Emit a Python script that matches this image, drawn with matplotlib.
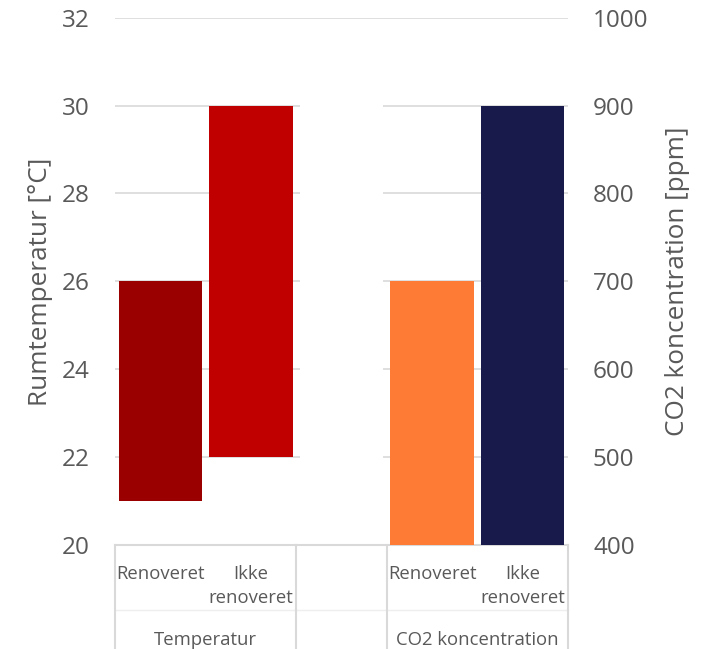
import matplotlib.pyplot as plt
from matplotlib.lines import Line2D

plt.rcParams['font.family'] = ['Open Sans', 'DejaVu Sans']

# Temperature range (left axis) and CO2 range (right axis) per building type
groups = ['Temperatur', 'CO2 koncentration']
categories = ['Renoveret', 'Ikke\nrenoveret']
temp_low = [21, 22]
temp_high = [26, 30]
co2_low = [400, 400]
co2_high = [700, 900]

temp_colors = ['#9B0000', '#C00000']
co2_colors = ['#FD7B35', '#171A4A']
text_color = '#595959'
grid_color = '#D9D9D9'

fig = plt.figure(figsize=(7.1, 6.49), dpi=100)
ax = fig.add_axes([115 / 710, 1 - 545 / 649, (568 - 115) / 710, (545 - 17.7) / 649])
ax2 = ax.twinx()

temp_x = [0, 1]
co2_x = [3, 4]
width = 0.92

ax.bar(temp_x, [h - l for h, l in zip(temp_high, temp_low)], bottom=temp_low,
       width=width, color=temp_colors, zorder=2)
# empty spacer slot between the two groups
ax.bar([2], [11.98], bottom=[20], width=width, color='white', zorder=2)
ax2.bar(co2_x, [h - l for h, l in zip(co2_high, co2_low)], bottom=co2_low,
        width=width, color=co2_colors, zorder=2)

ax.set_xlim(-0.5, 4.5)
ax.set_ylim(20, 32)
ax.set_yticks(range(20, 33, 2))
ax2.set_ylim(400, 1000)
ax2.set_yticks(range(400, 1001, 100))

ax.set_axisbelow(True)
ax.yaxis.grid(True, color=grid_color, linewidth=1.2)
ax.set_xticks([])

for a in (ax, ax2):
    for s in a.spines.values():
        s.set_visible(False)
    a.tick_params(axis='y', length=0, labelsize=17.5, labelcolor=text_color)
ax.tick_params(axis='y', pad=18)
ax2.tick_params(axis='y', pad=18)

ax.set_ylabel('Rumtemperatur [°C]', fontsize=18.8, color=text_color)
ax2.set_ylabel('CO2 koncentration [ppm]', fontsize=18.8, color=text_color)
ax.yaxis.set_label_coords(-(115 - 53) / 453, 0.5)
ax2.yaxis.set_label_coords(1 + (665 - 568) / 453, 0.5)

# category axis with two label rows and separators
tr = ax.get_xaxis_transform()
bottom_y = -(649 - 545) / 527
ax.add_line(Line2D([-0.5, 4.5], [0, 0], transform=tr, color=grid_color,
                   linewidth=1.5, clip_on=False))
ax.add_line(Line2D([-0.5, 4.5], [-(610 - 545) / 527] * 2, transform=tr,
                   color='#EEEEEE', linewidth=1, clip_on=False))
for xs in [-0.5, 1.5, 2.5, 4.5]:
    ax.add_line(Line2D([xs, xs], [0, bottom_y], transform=tr, color=grid_color,
                       linewidth=1.5, clip_on=False))

for xs in (temp_x, co2_x):
    for x, cat in zip(xs, categories):
        ax.text(x, -(565 - 545) / 527, cat, transform=tr, ha='center', va='top',
                fontsize=13.3, color=text_color, linespacing=1.4,
                multialignment='center')

for xs, g in zip((temp_x, co2_x), groups):
    ax.text(sum(xs) / 2, -(640 - 545) / 527, g, transform=tr, ha='center',
            va='center', fontsize=13.3, color=text_color)

fig.savefig('out.png', dpi=100)
